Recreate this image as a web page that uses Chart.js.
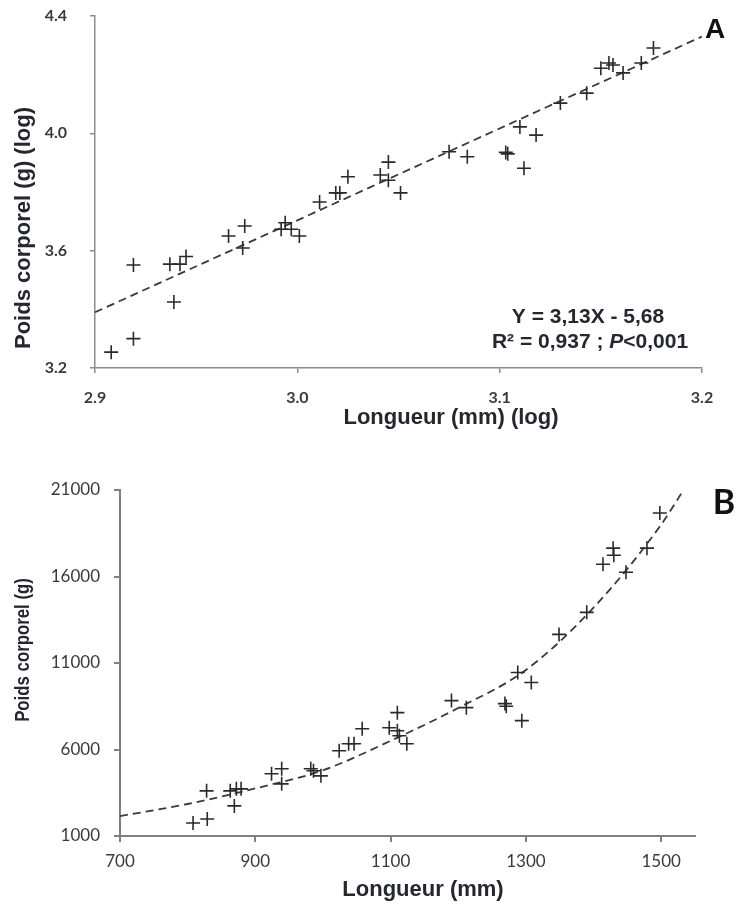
<!DOCTYPE html>
<html>
<head>
<meta charset="utf-8">
<script src="https://cdn.jsdelivr.net/npm/chart.js@4.4.1/dist/chart.umd.min.js"></script>
<style>
    html, body { margin: 0; padding: 0; background: #ffffff; }
    #cadre { position: relative; width: 737px; height: 904px; }
    canvas { position: absolute; left: 0; }
    #graphique-a { top: 0; }
    #graphique-b { top: 452px; }
</style>
</head>
<body>
<div id="cadre">
    <canvas id="graphique-a" width="737" height="452"></canvas>
    <canvas id="graphique-b" width="737" height="452"></canvas>
</div>
<script>
// --- Panneau A : données log-log ---
const longueurLogA = [2.908, 2.919, 2.919, 2.937, 2.942, 2.945, 2.939, 2.966, 2.974, 2.973,
    2.992, 2.994, 2.997, 3.001, 3.011, 3.019, 3.021, 3.025, 3.041, 3.045, 3.045, 3.051,
    3.075, 3.084, 3.103, 3.104, 3.112, 3.110, 3.118, 3.130, 3.143, 3.150, 3.154, 3.156,
    3.161, 3.170, 3.176];
const poidsLogA = [3.254, 3.300, 3.551, 3.554, 3.554, 3.580, 3.425, 3.650, 3.684, 3.609,
    3.673, 3.695, 3.673, 3.650, 3.766, 3.797, 3.797, 3.852, 3.858, 3.902, 3.840, 3.797,
    3.937, 3.920, 3.935, 3.930, 3.881, 4.022, 3.994, 4.103, 4.137, 4.222, 4.240, 4.233,
    4.206, 4.240, 4.291];
const droiteLongueurA = [2.9, 3.2];
const droitePoidsA = [3.39, 4.33];
const graduationsXA = [2.9, 3.0, 3.1, 3.2];
const graduationsYA = [3.2, 3.6, 4.0, 4.4];

// --- Panneau B : données brutes ---
const longueurB = [808, 829, 828, 869, 863, 872, 879, 924, 939, 939, 982, 986, 997, 1024,
    1038, 1046, 1058, 1098, 1110, 1110, 1113, 1124, 1190, 1212, 1269, 1271, 1294, 1288,
    1308, 1349, 1390, 1414, 1429, 1430, 1448, 1479, 1498];
const poidsB = [1754, 1986, 3609, 2739, 3609, 3725, 3725, 4594, 4884, 4014, 4884, 4768,
    4478, 5928, 6333, 6333, 7203, 7261, 7087, 8130, 6797, 6333, 8826, 8420, 8652, 8500,
    7667, 10449, 9870, 12652, 13928, 16710, 17638, 17232, 16246, 17638, 19667];
const courbeLongueurB = [700, 800, 900, 1000, 1100, 1200, 1300, 1400, 1500, 1533];
const courbePoidsB = [2150, 2850, 3750, 4800, 6500, 8400, 10600, 14200, 19000, 21000];
const graduationsXB = [700, 900, 1100, 1300, 1500];
const graduationsYB = [1000, 6000, 11000, 16000, 21000];

const enPoints = (xs, ys) => xs.map((x, i) => ({ x: x, y: ys[i] }));

// textes libres (titres d'axes, équation, lettre du panneau)
const textesLibres = {
    id: "textesLibres",
    afterDraw(chart, args, opts) {
        const ctx = chart.ctx;
        opts.items.forEach((t) => {
            ctx.save();
            ctx.translate(t.x, t.y);
            if (t.rot) {
                ctx.rotate(t.rot);
            }
            if (t.etirement) {
                ctx.scale(t.etirement, 1);
            }
            ctx.fillStyle = t.color || "#262630";
            ctx.textBaseline = "middle";
            ctx.textAlign = "left";
            const parts = t.parts || [{ text: t.text, font: t.font }];
            let total = 0;
            parts.forEach((p) => {
                ctx.font = p.font;
                total += ctx.measureText(p.text).width;
            });
            let x = -total / 2;
            parts.forEach((p) => {
                ctx.font = p.font;
                ctx.fillText(p.text, x, 0);
                x += ctx.measureText(p.text).width;
            });
            ctx.restore();
        });
    },
};

const creerEchelle = (min, max, graduations, decimales, police, largeur, pad, taille, couleur, epaisseur, horizontal) => ({
    type: "linear",
    min: min,
    max: max,
    afterBuildTicks: (scale) => {
        scale.ticks = graduations.map((v) => ({ value: v }));
    },
    afterFit: (scale) => {
        if (horizontal) {
            scale.height = taille;
            scale.paddingLeft = 0;
            scale.paddingRight = 0;
        } else {
            scale.width = taille;
            scale.paddingTop = 0;
            scale.paddingBottom = 0;
        }
    },
    grid: {
        display: true,
        drawOnChartArea: false,
        drawTicks: true,
        tickLength: largeur,
        color: couleur,
        lineWidth: epaisseur,
    },
    border: { display: true, color: couleur, width: epaisseur },
    ticks: {
        color: "#3a3a3a",
        font: police,
        padding: pad,
        maxRotation: 0,
        autoSkip: false,
        callback: (v) => Number(v).toFixed(decimales),
    },
});

const styleCroix = {
    pointStyle: "cross",
    pointRadius: 7,
    pointHoverRadius: 7,
    borderWidth: 1.6,
    borderColor: "#2a2a2a",
    backgroundColor: "#2a2a2a",
    showLine: false,
};

const styleTirets = {
    showLine: true,
    pointRadius: 0,
    borderColor: "#3a3a3a",
    borderWidth: 1.8,
    borderDash: [8, 5],
    fill: false,
};

new Chart(document.getElementById("graphique-a").getContext("2d"), {
    type: "scatter",
    data: {
        datasets: [
            Object.assign({ data: enPoints(longueurLogA, poidsLogA) }, styleCroix),
            Object.assign({ data: enPoints(droiteLongueurA, droitePoidsA) }, styleTirets),
        ],
    },
    options: {
        responsive: false,
        animation: false,
        devicePixelRatio: 1,
        layout: { padding: { top: 16, right: 35, bottom: 44, left: 0 } },
        plugins: {
            legend: { display: false },
            tooltip: { enabled: false },
            textesLibres: {
                items: [
                    { text: "Poids corporel (g) (log)", x: 24, y: 228, rot: -Math.PI / 2, font: "bold 22px 'Liberation Sans', Arial, sans-serif" },
                    { text: "Longueur (mm) (log)", x: 451, y: 418, font: "bold 22px 'Liberation Sans', Arial, sans-serif" },
                    { text: "Y = 3,13X - 5,68", x: 588, y: 317, font: "bold 21px 'Liberation Sans', Arial, sans-serif" },
                    {
                        x: 590, y: 342,
                        parts: [
                            { text: "R² = 0,937 ; ", font: "bold 21px 'Liberation Sans', Arial, sans-serif" },
                            { text: "P", font: "italic bold 21px 'Liberation Sans', Arial, sans-serif" },
                            { text: "<0,001", font: "bold 21px 'Liberation Sans', Arial, sans-serif" },
                        ],
                    },
                    { text: "A", x: 715, y: 30, color: "#111111", font: "bold 28px 'Liberation Sans', Arial, sans-serif" },
                ],
            },
        },
        scales: {
            x: creerEchelle(2.9, 3.2, graduationsXA, 1, { family: "Lato", size: 16, weight: "bold" }, 5, 15, 40, "#8c8c8c", 1.5, true),
            y: creerEchelle(3.2, 4.4, graduationsYA, 1, { family: "Lato", size: 16, weight: "bold" }, 5, 23, 95, "#8c8c8c", 1.5, false),
        },
    },
    plugins: [textesLibres],
});

new Chart(document.getElementById("graphique-b").getContext("2d"), {
    type: "scatter",
    data: {
        datasets: [
            Object.assign({ data: enPoints(longueurB, poidsB) }, styleCroix),
            Object.assign({ data: enPoints(courbeLongueurB, courbePoidsB), cubicInterpolationMode: "monotone" }, styleTirets),
        ],
    },
    options: {
        responsive: false,
        animation: false,
        devicePixelRatio: 1,
        layout: { padding: { top: 38, right: 42, bottom: 28, left: 0 } },
        plugins: {
            legend: { display: false },
            tooltip: { enabled: false },
            textesLibres: {
                items: [
                    { text: "Poids corporel (g)", x: 23, y: 198, rot: -Math.PI / 2, etirement: 0.84, font: "bold 20px 'Liberation Sans', Arial, sans-serif" },
                    { text: "Longueur (mm)", x: 423, y: 438, font: "bold 22px 'Liberation Sans', Arial, sans-serif" },
                    { text: "B", x: 724, y: 51, color: "#111111", font: "bold 34px Lato, sans-serif" },
                ],
            },
        },
        scales: {
            x: creerEchelle(700, 1550, graduationsXB, 0, { family: "Lato", size: 17 }, 6, 9, 40, "#808080", 2, true),
            y: creerEchelle(1000, 21000, graduationsYB, 0, { family: "Lato", size: 17 }, 6, 14, 120, "#808080", 2, false),
        },
    },
    plugins: [textesLibres],
});
</script>
</body>
</html>
